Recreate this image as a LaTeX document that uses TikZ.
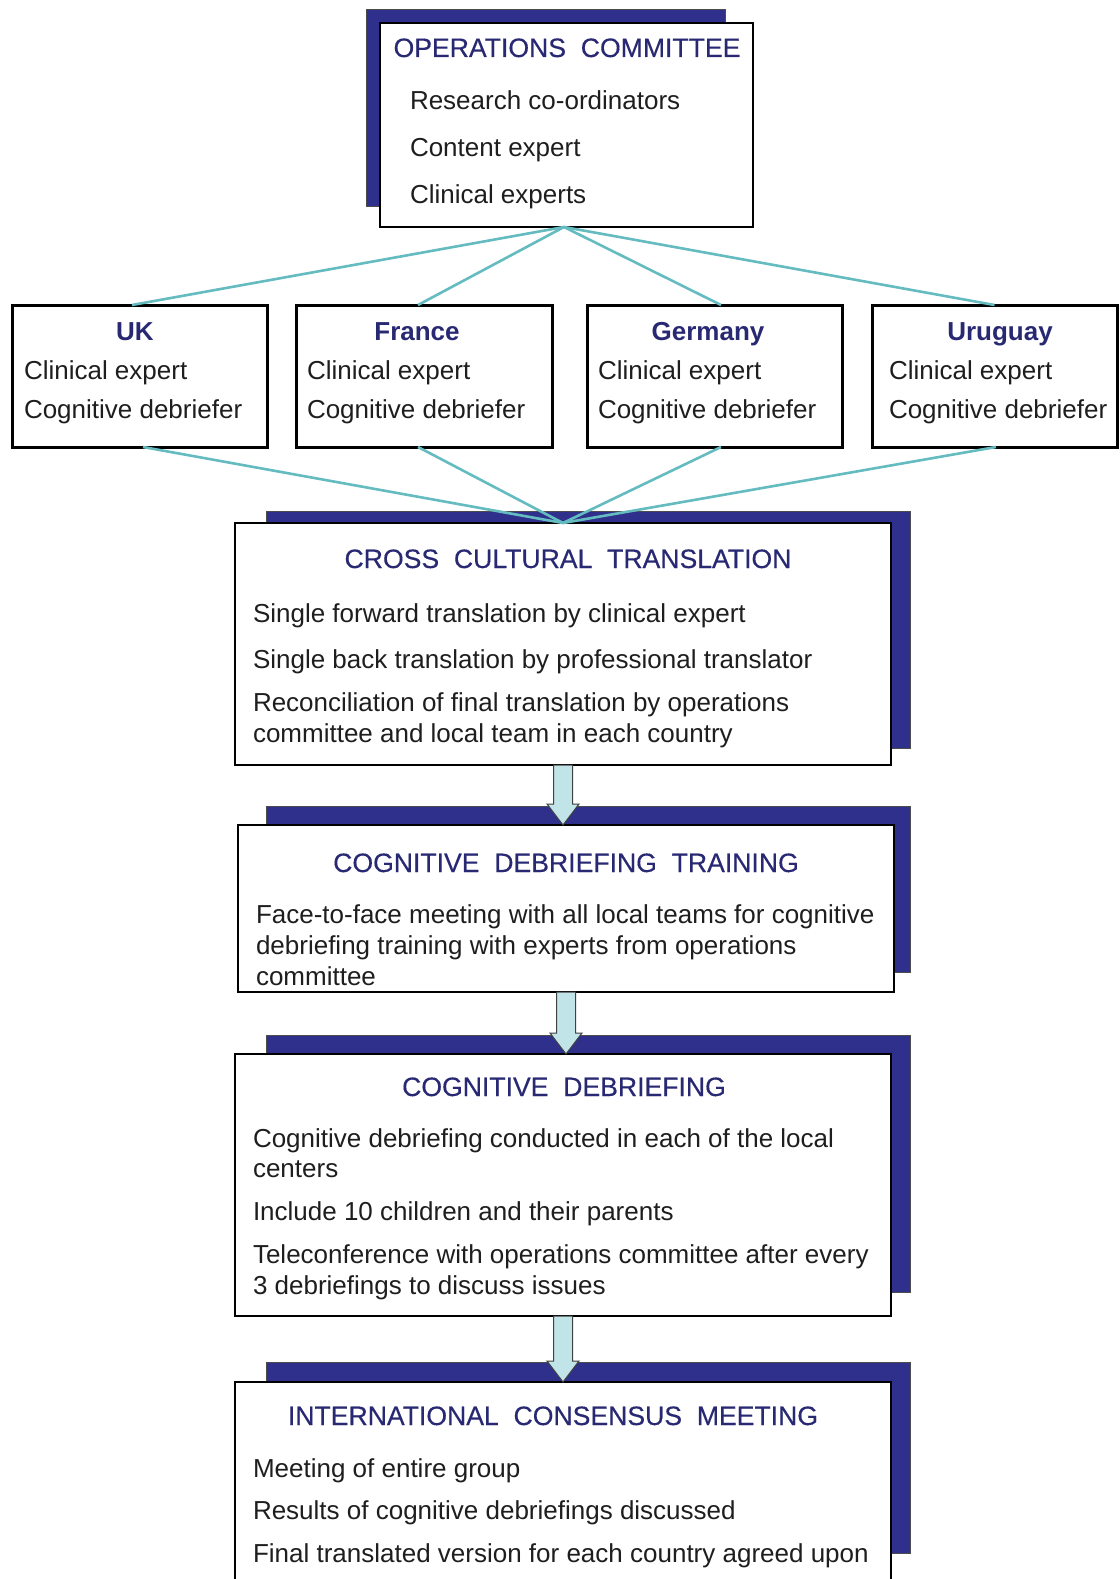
\documentclass[tikz,border=0pt]{standalone}
\usepackage{fontspec}
\setmainfont{Liberation Sans}
\newfontfamily\semititle{Liberation Sans}[FakeBold=0.35]
\usetikzlibrary{calc}
\definecolor{navyshadow}{RGB}{46,48,140}
\definecolor{navytext}{RGB}{40,40,115}
\definecolor{connc}{RGB}{100,188,192}
\definecolor{arrowfill}{RGB}{192,228,232}
\definecolor{bodytext}{RGB}{30,30,30}
\begin{document}
\begin{tikzpicture}[x=1pt,y=-1pt,
  every node/.style={inner sep=0pt, outer sep=0pt},
  whitebox/.style={draw=black, line width=1.3pt, fill=white, anchor=north west},
  shadowbox/.style={draw=black!70, line width=1pt, fill=navyshadow, anchor=north west},
  countrybox/.style={draw=black, line width=3pt, fill=white, anchor=north west},
  titletext/.style={anchor=base, text=navytext, font=\semititle\fontsize{26.6}{30}\selectfont},
  ctitle/.style={anchor=base, text=navytext, font=\fontsize{26}{30}\selectfont\bfseries},
  body/.style={anchor=base west, text=bodytext, font=\fontsize{26}{30}\selectfont},
  conn/.style={draw=connc, line width=2.6pt},
  blockarr/.style={draw=black!75, line width=1pt, fill=arrowfill}]

\fill[white] (0,0) rectangle (1119,1579);
\useasboundingbox (0,0) rectangle (1119,1579);

% Operations committee
\node[shadowbox, minimum width=359pt, minimum height=196pt] (opS) at (366,10) {};
\node[whitebox, minimum width=373pt, minimum height=204pt] (op) at (380,23) {};
\node[titletext] (opT) at (567,57) {OPERATIONS\ \ COMMITTEE};
\node[body] (op1) at (410,109) {Research co-ordinators};
\node[body] (op2) at (410,156) {Content expert};
\node[body] (op3) at (410,203) {Clinical experts};

% Country boxes
\node[countrybox, minimum width=255pt, minimum height=142pt] (uk) at (12,305) {};
\node[countrybox, minimum width=256pt, minimum height=142pt] (fr) at (296,305) {};
\node[countrybox, minimum width=255pt, minimum height=142pt] (de) at (587,305) {};
\node[countrybox, minimum width=245pt, minimum height=142pt] (uy) at (872,305) {};

\node[ctitle] (ukT) at (135,340) {UK};
\node[ctitle] (frT) at (417,340) {France};
\node[ctitle] (deT) at (708,340) {Germany};
\node[ctitle] (uyT) at (1000,340) {Uruguay};

\node[body] (uk1) at (24,379) {Clinical expert};
\node[body] (uk2) at (24,418) {Cognitive debriefer};
\node[body] (fr1) at (307,379) {Clinical expert};
\node[body] (fr2) at (307,418) {Cognitive debriefer};
\node[body] (de1) at (598,379) {Clinical expert};
\node[body] (de2) at (598,418) {Cognitive debriefer};
\node[body] (uy1) at (889,379) {Clinical expert};
\node[body] (uy2) at (889,418) {Cognitive debriefer};

% Flow boxes: shadows and white boxes
\node[shadowbox, minimum width=644pt, minimum height=237pt] (cctS) at (266,511) {};
\node[whitebox, minimum width=656pt, minimum height=242pt] (cct) at (235,523) {};

\node[shadowbox, minimum width=644pt, minimum height=166pt] (cdtS) at (266,806) {};
\node[whitebox, minimum width=656pt, minimum height=167pt] (cdt) at (238,825) {};

\node[shadowbox, minimum width=644pt, minimum height=257pt] (cdS) at (266,1035) {};
\node[whitebox, minimum width=656pt, minimum height=262pt] (cd) at (235,1054) {};

\node[shadowbox, minimum width=644pt, minimum height=191pt] (icmS) at (266,1362) {};
\node[fill=white, anchor=north west, minimum width=656pt, minimum height=197pt] (icm) at (235,1382) {};
\draw[black, line width=1.3pt] (icm.south west) -- (icm.north west) -- (icm.north east) -- (icm.south east);

% Connectors
\draw[conn] ([xshift=-2.5pt]op.south) -- ([xshift=-7.5pt]uk.north);
\draw[conn] ([xshift=-2.5pt]op.south) -- ([xshift=-6pt]fr.north);
\draw[conn] ([xshift=-2.5pt]op.south) -- ([xshift=6.5pt]de.north);
\draw[conn] ([xshift=-2.5pt]op.south) -- (uy.north);
\draw[conn] ([xshift=3.5pt]uk.south) -- (cct.north);
\draw[conn] ([xshift=-6pt]fr.south) -- (cct.north);
\draw[conn] ([xshift=6.5pt]de.south) -- (cct.north);
\draw[conn] ([xshift=1.5pt]uy.south) -- (cct.north);

% Texts of flow boxes
\node[titletext] (cctT) at (568,568) {CROSS\ \ CULTURAL\ \ TRANSLATION};
\node[body] (cct1) at (253,622) {Single forward translation by clinical expert};
\node[body] (cct2) at (253,668) {Single back translation by professional translator};
\node[body] (cct3) at (253,711) {Reconciliation of final translation by operations};
\node[body] (cct4) at (253,742) {committee and local team in each country};

\node[titletext] (cdtT) at (566,872) {COGNITIVE\ \ DEBRIEFING\ \ TRAINING};
\node[body] (cdt1) at (256,923) {Face-to-face meeting with all local teams for cognitive};
\node[body] (cdt2) at (256,954) {debriefing training with experts from operations};
\node[body] (cdt3) at (256,985) {committee};

\node[titletext] (cdT) at (564,1096) {COGNITIVE\ \ DEBRIEFING};
\node[body] (cd1) at (253,1147) {Cognitive debriefing conducted in each of the local};
\node[body] (cd2) at (253,1177) {centers};
\node[body] (cd3) at (253,1220) {Include 10 children and their parents};
\node[body] (cd4) at (253,1263) {Teleconference with operations committee after every};
\node[body] (cd5) at (253,1294) {3 debriefings to discuss issues};

\node[titletext] (icmT) at (553,1425) {INTERNATIONAL\ \ CONSENSUS\ \ MEETING};
\node[body] (icm1) at (253,1477) {Meeting of entire group};
\node[body] (icm2) at (253,1519) {Results of cognitive debriefings discussed};
\node[body] (icm3) at (253,1562) {Final translated version for each country agreed upon};

% Block arrows
\foreach \a/\b in {cct/cdt, cdt/cd, cd/icm}{
  \draw[blockarr] let \p1=(\a.south), \p2=(\b.north) in
    (\x1-9.5pt,\y1) -- (\x1-9.5pt,\y2+21pt) -- (\x1-16pt,\y2+21pt) -- (\x1,\y2)
    -- (\x1+16pt,\y2+21pt) -- (\x1+9.5pt,\y2+21pt) -- (\x1+9.5pt,\y1) -- cycle;
}
\end{tikzpicture}
\end{document}
